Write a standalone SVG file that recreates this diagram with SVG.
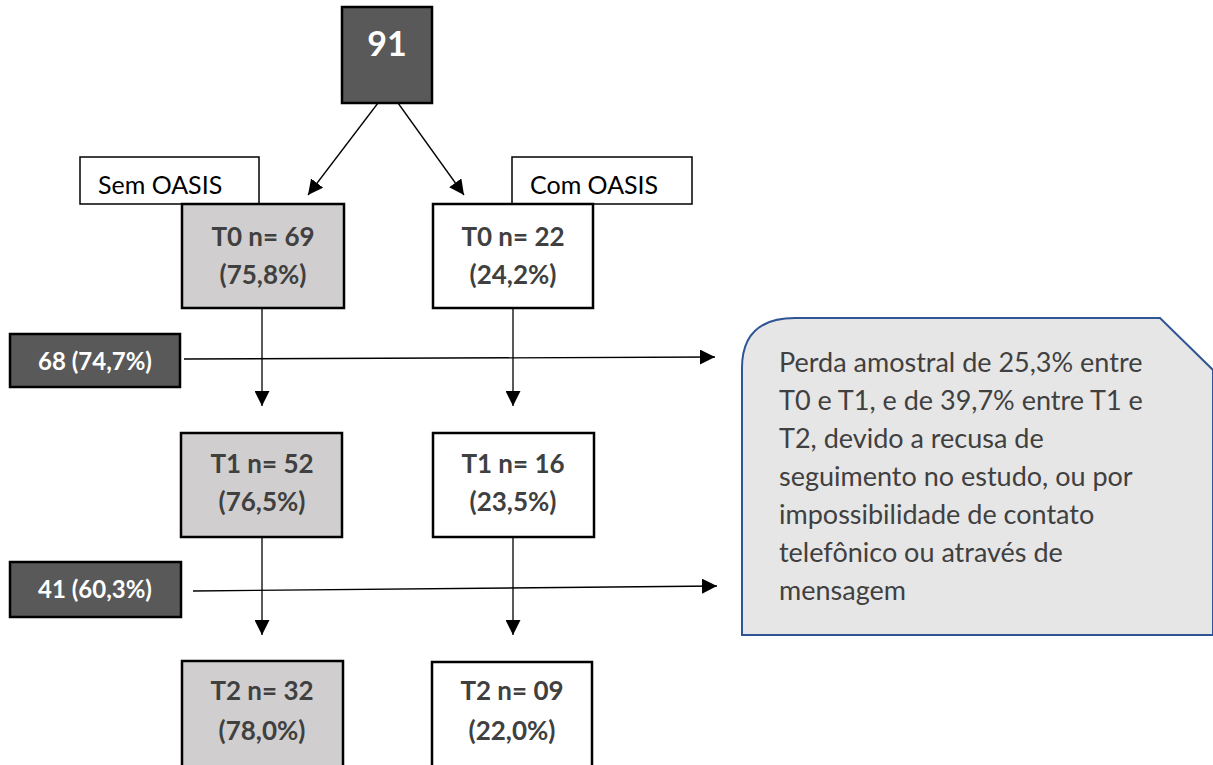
<svg xmlns="http://www.w3.org/2000/svg" width="1213" height="765" viewBox="0 0 1213 765">
<defs>
<marker id="ah" viewBox="0 0 10 10" refX="10" refY="5" markerWidth="15" markerHeight="15" markerUnits="userSpaceOnUse" orient="auto"><path d="M0,0 L10,5 L0,10 z" fill="#000"/></marker>
<style>
.box{stroke:#000;stroke-width:2.5}
.gray{fill:#D0CECE}
.white{fill:#fff}
.dark{fill:#595959}
.nt{font-family:Lato,"Liberation Sans",sans-serif;font-weight:bold;font-size:26px;fill:#404040;text-anchor:middle}
.dt{font-family:Lato,"Liberation Sans",sans-serif;font-weight:bold;font-size:24px;fill:#fff;text-anchor:middle}
.lt{font-family:Lato,"Liberation Sans",sans-serif;font-size:25px;fill:#000}
.ct{font-family:Lato,"Liberation Sans",sans-serif;font-size:27px;fill:#404040}
.cn{stroke:#000;stroke-width:1.3;fill:none;marker-end:url(#ah)}
</style>
</defs>
<g id="connectors">
<line class="cn" x1="378" y1="103" x2="308" y2="195"/>
<line class="cn" x1="398" y1="103" x2="464" y2="195"/>
<line class="cn" x1="262" y1="308" x2="262" y2="406"/>
<line class="cn" x1="513" y1="308" x2="513" y2="406"/>
<line class="cn" x1="262" y1="538" x2="262" y2="635"/>
<line class="cn" x1="513" y1="538" x2="513" y2="635"/>
<line class="cn" x1="184" y1="359" x2="715" y2="357"/>
<line class="cn" x1="193" y1="591" x2="717" y2="586"/>
</g>
<g id="n91"><rect class="box dark" x="342" y="7" width="90" height="96"/><text x="387" y="56" class="dt" style="font-size:34px">91</text></g>
<g id="semoasis"><rect x="80" y="157" width="179" height="47" fill="#fff" stroke="#000" stroke-width="1.5"/><text x="98" y="194" class="lt">Sem OASIS</text></g>
<g id="comoasis"><rect x="512" y="157" width="180" height="47" fill="#fff" stroke="#000" stroke-width="1.5"/><text x="530" y="194" class="lt">Com OASIS</text></g>
<g id="t0a"><rect class="box gray" x="182" y="204" width="162" height="104"/><text x="263" y="246" class="nt">T0 n= 69</text><text x="263" y="284" class="nt">(75,8%)</text></g>
<g id="t0b"><rect class="box white" x="433" y="204" width="160" height="104"/><text x="513" y="246" class="nt">T0 n= 22</text><text x="513" y="284" class="nt">(24,2%)</text></g>
<g id="loss1"><rect class="box dark" x="10" y="334" width="170" height="53"/><text x="95" y="370" class="dt">68 (74,7%)</text></g>
<g id="t1a"><rect class="box gray" x="181" y="433" width="161" height="104"/><text x="262" y="473" class="nt">T1 n= 52</text><text x="262" y="511" class="nt">(76,5%)</text></g>
<g id="t1b"><rect class="box white" x="433" y="433" width="161" height="104"/><text x="513" y="473" class="nt">T1 n= 16</text><text x="513" y="511" class="nt">(23,5%)</text></g>
<g id="loss2"><rect class="box dark" x="10" y="562" width="171" height="55"/><text x="95" y="598" class="dt">41 (60,3%)</text></g>
<g id="t2a"><rect class="box gray" x="182" y="661" width="161" height="110"/><text x="262" y="700" class="nt">T2 n= 32</text><text x="262" y="740" class="nt">(78,0%)</text></g>
<g id="t2b"><rect class="box white" x="432" y="662" width="160" height="110"/><text x="512" y="700" class="nt">T2 n= 09</text><text x="512" y="740" class="nt">(22,0%)</text></g>
<g id="callout">
<path d="M742,635 L742,368 Q742,318 795,318 L1160,318 L1213,370 L1213,635 Z" fill="#E7E6E6" stroke="#2F5597" stroke-width="2"/>
<text class="ct"><tspan x="779" y="372">Perda amostral de 25,3% entre</tspan><tspan x="779" y="410">T0 e T1, e de 39,7% entre T1 e</tspan><tspan x="779" y="448">T2,  devido a recusa de</tspan><tspan x="779" y="486">seguimento no estudo, ou por</tspan><tspan x="779" y="524">impossibilidade de contato</tspan><tspan x="779" y="562">telefônico ou através de</tspan><tspan x="779" y="600">mensagem</tspan></text>
</g>
</svg>
